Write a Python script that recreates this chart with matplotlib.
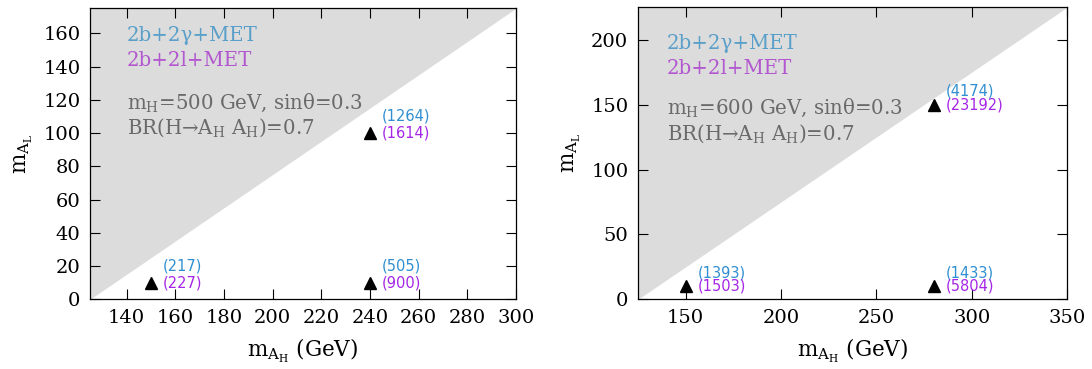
import numpy as np
import matplotlib
matplotlib.use('Agg')
from matplotlib import pyplot as plt

plt.rcParams['font.family'] = ['DejaVu Serif']
plt.rcParams['mathtext.fontset'] = 'dejavuserif'

# panel (a): mH = 500 GeV
mAH_500 = [150, 240, 240]
mAL_500 = [10, 10, 100]
nev_gg_500 = [217, 505, 1264]
nev_ll_500 = [227, 900, 1614]

# panel (b): mH = 600 GeV
mAH_600 = [150, 280, 280]
mAL_600 = [10, 10, 150]
nev_gg_600 = [1393, 1433, 4174]
nev_ll_600 = [1503, 5804, 23192]

# kinematic boundary (shaded above)
edge_500_x = [125, 300]
edge_500_y = [0, 175]
edge_600_x = [125, 350]
edge_600_y = [0, 225]

BLUE = '#2f8fd0'
PURPLE = '#a526e6'
W, H = 1092, 369


def panel(rect, ex, ey, xs, ys, ngg, nll, xticks, yticks, mH,
          txt_x, txt_y, dy_lab):
    ax = plt.gcf().add_axes([rect[0] / W, 1 - rect[3] / H,
                             (rect[2] - rect[0]) / W, (rect[3] - rect[1]) / H])
    ax.fill_between(ex, ey, ey[-1], color='#dcdcdc', lw=0, zorder=0)
    ax.plot(xs, ys, '^', color='k', mec='k', mfc='k', ms=8.5, zorder=3)
    for x, y, a, b in zip(xs, ys, ngg, nll):
        ax.annotate('(%d)' % a, (x, y), xytext=(8.5, dy_lab), textcoords='offset points',
                    color=BLUE, fontsize=10.5, family='DejaVu Sans', va='center', ha='left')
        ax.annotate('(%d)' % b, (x, y), xytext=(8.5, 0), textcoords='offset points',
                    color=PURPLE, fontsize=10.5, family='DejaVu Sans', va='center', ha='left')
    ax.set_xlim(ex[0], ex[-1])
    ax.set_ylim(ey[0], ey[-1])
    ax.set_xticks(xticks)
    ax.set_yticks(yticks)
    ax.tick_params(direction='in', length=7, width=0.8, top=True, right=True,
                   labelsize=14, pad=7)
    for s in ax.spines.values():
        s.set_linewidth(0.9)
    kw = dict(transform=ax.transAxes, fontsize=14.2, va='baseline', ha='left')
    ax.text(txt_x, txt_y[0], '2b+2γ+MET', color='#5a9fc9', **kw)
    ax.text(txt_x, txt_y[1], '2b+2l+MET', color='#b257cf', **kw)
    ax.text(txt_x, txt_y[2], r'm$_\mathrm{H}$=%d GeV, sinθ=0.3' % mH, color='#6a6a6a', **kw)
    ax.text(txt_x, txt_y[3], r'BR(H→A$_\mathrm{H}$ A$_\mathrm{H}$)=0.7', color='#6a6a6a', **kw)
    ax.set_xlabel(r'm$_{\mathrm{A}_\mathrm{H}}$ (GeV)', fontsize=15.5, labelpad=7)
    ax.set_ylabel(r'm$_{\mathrm{A}_\mathrm{L}}$', fontsize=15.5, labelpad=6)
    return ax


fig = plt.figure(figsize=(W / 100, H / 100), dpi=100)
panel((90, 8.3, 516, 299.3), edge_500_x, edge_500_y, mAH_500, mAL_500,
      nev_gg_500, nev_ll_500, range(140, 301, 20), range(0, 161, 20), 500,
      0.086, [0.886, 0.803, 0.656, 0.570], 12)
panel((638, 7.3, 1067, 299.3), edge_600_x, edge_600_y, mAH_600, mAL_600,
      nev_gg_600, nev_ll_600, range(150, 351, 50), range(0, 201, 50), 600,
      0.067, [0.856, 0.772, 0.637, 0.546], 9.5)

plt.savefig('out.png', dpi=100)
